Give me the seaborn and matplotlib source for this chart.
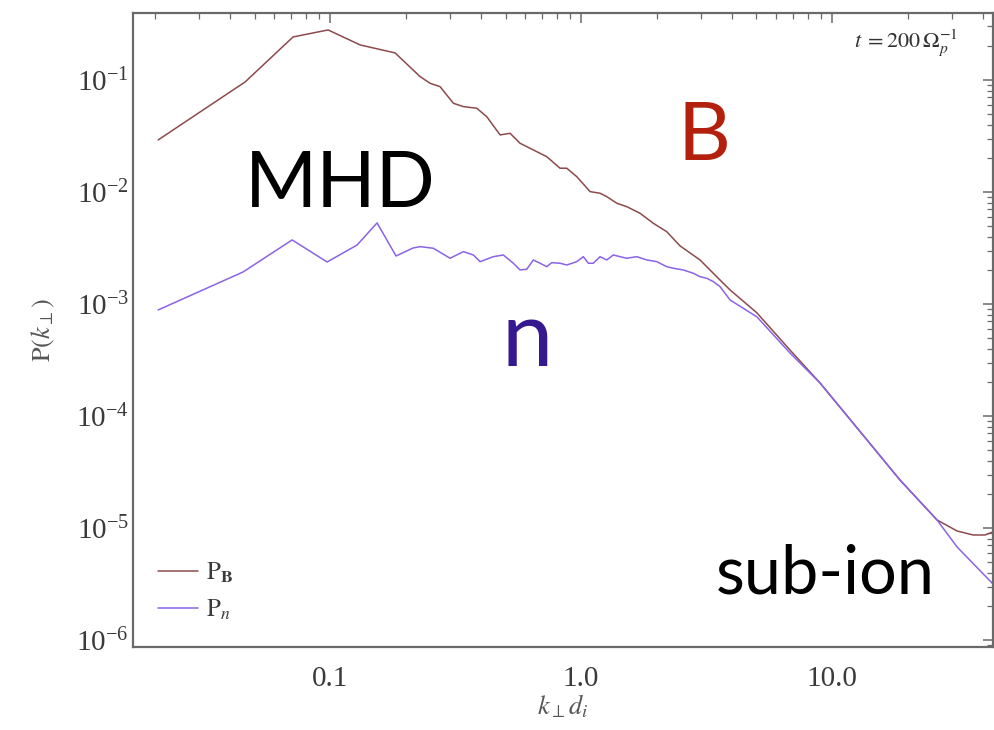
import numpy as np
import pandas as pd
import matplotlib
matplotlib.use("Agg")
import matplotlib.pyplot as plt
import matplotlib.ticker as mticker
import seaborn as sns

# ---- data ----
k_B = [0.02065, 0.04587, 0.0712, 0.0982, 0.1317, 0.1816, 0.2284, 0.2503, 0.2743,
       0.3100, 0.3396, 0.3842, 0.4210, 0.4758, 0.5214, 0.5715, 0.6457, 0.7300,
       0.8246, 0.877, 0.9614, 1.086, 1.190, 1.266, 1.388, 1.521, 1.718, 1.941,
       2.194, 2.480, 2.979, 3.482, 3.924, 4.713, 5.025, 6.80, 8.96, 13.79, 18.66,
       26.2, 31.5, 36.5, 40.7, 43.8]
P_B = [0.02912, 0.0960, 0.242, 0.2795, 0.2054, 0.1742, 0.1071, 0.0934, 0.0871,
       0.0619, 0.0578, 0.0559, 0.0470, 0.0323, 0.0334, 0.0272, 0.0237, 0.02066,
       0.01629, 0.01629, 0.01370, 0.01007, 0.00974, 0.00908, 0.00793, 0.00739,
       0.00645, 0.00525, 0.00442, 0.00330, 0.00247, 0.00174, 0.001334, 0.000940,
       0.000831, 0.000388, 0.000197, 6.10e-5, 2.68e-5, 1.18e-5, 9.40e-6, 8.66e-6,
       8.66e-6, 9.21e-6]

k_n = [0.02065, 0.0450, 0.0706, 0.0973, 0.1281, 0.1539, 0.1832, 0.2141,
       0.2284, 0.2579, 0.3007, 0.3397, 0.3724, 0.3960, 0.4472, 0.4902, 0.5374,
       0.5714, 0.6076, 0.6455, 0.6866, 0.7301, 0.7643, 0.8250, 0.8771, 0.9613,
       1.0213, 1.0693, 1.1194, 1.1903, 1.2658, 1.3447, 1.4298, 1.5204, 1.6669,
       1.8271, 2.0026, 2.1951, 2.3320, 2.5561, 2.8021, 2.9790, 3.1681, 3.3670,
       3.5796, 3.924, 5.025, 6.80, 8.96, 13.79, 18.66, 26.2, 31.5, 43.8]
P_n = [8.84e-4, 1.93e-3, 3.73e-3, 2.37e-3, 3.36e-3, 5.29e-3, 2.68e-3, 3.16e-3,
       3.249e-3, 3.144e-3, 2.559e-3, 2.930e-3, 2.738e-3, 2.386e-3, 2.644e-3,
       2.738e-3, 2.309e-3, 2.012e-3, 2.041e-3, 2.471e-3, 2.309e-3, 2.153e-3,
       2.337e-3, 2.309e-3, 2.229e-3, 2.386e-3, 2.644e-3, 2.309e-3, 2.309e-3,
       2.644e-3, 2.471e-3, 2.738e-3, 2.644e-3, 2.559e-3, 2.644e-3, 2.471e-3,
       2.386e-3, 2.153e-3, 2.083e-3, 2.012e-3, 1.879e-3, 1.752e-3, 1.696e-3,
       1.582e-3, 1.427e-3, 1.086e-3, 7.66e-4, 3.65e-4, 1.97e-4, 6.10e-5, 2.68e-5,
       1.18e-5, 6.77e-6, 3.16e-6]

series_names = ["B", "n"]
legend_labels = [r"$\mathrm{P}_{\mathbf{B}}$", r"$\mathrm{P}_{n}$"]
x_ticks = [0.1, 1.0, 10.0]
x_ticklabels = ["0.1", "1.0", "10.0"]
y_ticks = [1e-6, 1e-5, 1e-4, 1e-3, 1e-2, 1e-1]

df = pd.concat([
    pd.DataFrame({"k": k_B, "P": P_B, "series": "B"}),
    pd.DataFrame({"k": k_n, "P": P_n, "series": "n"}),
], ignore_index=True)

sns.set_style("white")
plt.rcParams["font.family"] = ["Liberation Serif", "DejaVu Serif"]
plt.rcParams["mathtext.fontset"] = "stix"

fig = plt.figure(figsize=(9.95, 7.30), dpi=100)
ax = fig.add_axes([0.1337, 0.1137, 0.8643, 0.8685])

palette = {"B": "#8c4a4c", "n": "#8a63e6"}
sns.lineplot(data=df, x="k", y="P", hue="series", palette=palette,
             estimator=None, sort=False, linewidth=1.1, ax=ax, legend=False)

ax.set_xscale("log")
ax.set_yscale("log")
ax.set_xlim(0.0164, 43.8)
ax.set_ylim(8.66e-7, 0.396)

ax.set_xticks(x_ticks)
ax.set_xticklabels(x_ticklabels)
ax.set_yticks(y_ticks)
ax.yaxis.set_major_formatter(mticker.FuncFormatter(
    lambda v, p: r"$\mathregular{10^{%d}}$" % int(round(np.log10(v)))))
ax.xaxis.set_minor_locator(mticker.LogLocator(base=10, subs=np.arange(2, 10)))
ax.yaxis.set_minor_locator(mticker.LogLocator(base=10, subs=np.arange(2, 10)))
ax.xaxis.set_minor_formatter(mticker.NullFormatter())
ax.yaxis.set_minor_formatter(mticker.NullFormatter())

tick_col = "#6a6a6a"
ax.tick_params(which="both", direction="in", top=True, right=True,
               color=tick_col, labelcolor="#3a3a3a")
ax.tick_params(which="major", length=7, width=1.1, labelsize=21)
ax.tick_params(which="minor", length=4, width=0.9)
ax.tick_params(axis="x", which="major", pad=14)
ax.tick_params(axis="y", which="major", pad=3)
for s in ax.spines.values():
    s.set_color("#6a6a6a")
    s.set_linewidth(1.6)

ax.set_xlabel(r"$k_\perp d_i$", fontsize=19, color="#555555", labelpad=0)
ax.set_ylabel(r"$\mathrm{P}(k_\perp)$", fontsize=19, color="#555555", labelpad=14)

lines = ax.get_lines()
ax.legend(lines[:2], legend_labels, loc="lower left", frameon=False,
          fontsize=18, handlelength=1.6, handletextpad=0.3, labelspacing=0.5,
          borderaxespad=0.6, labelcolor="#3a3a3a")

# annotations
ax.text(0.959, 0.954, r"$t\;{=}200\,\Omega_p^{-1}$", transform=ax.transAxes,
        ha="right", va="center", fontsize=16, color="#333333")
fig.text(245 / 995, 1 - 207 / 730, "MHD", fontsize=56, family="Lato",
         color="black", ha="left", va="baseline")
fig.text(678 / 995, 1 - 160 / 730, "B", fontsize=59, family="Lato",
         color="#b3200e", ha="left", va="baseline")
fig.text(502 / 995, 1 - 366 / 730, "n", fontsize=66, family="Lato",
         color="#35198f", ha="left", va="baseline")
fig.text(716 / 995, 1 - 593 / 730, "sub-ion", fontsize=48, family="Lato",
         color="black", ha="left", va="baseline")

fig.savefig("out.png", dpi=100)
